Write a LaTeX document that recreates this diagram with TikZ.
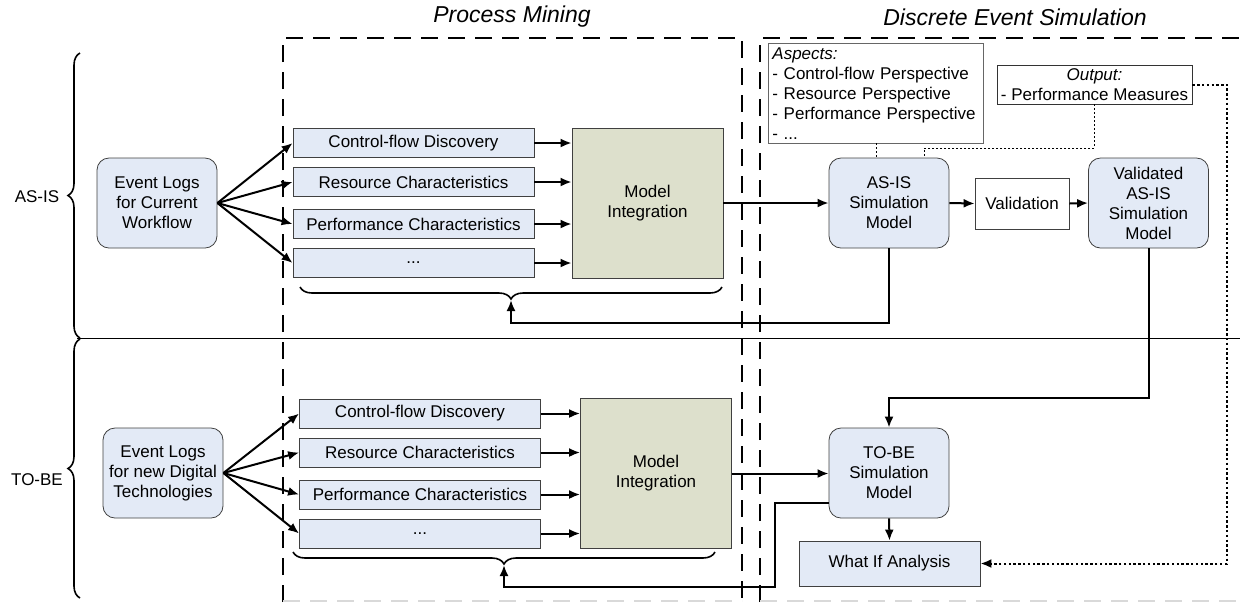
\documentclass[tikz,border=0pt]{standalone}
\usepackage{fontspec}
\setmainfont{Liberation Sans}
\usepackage{tikz}
\usetikzlibrary{positioning,calc}
\usetikzlibrary{arrows.meta,decorations.pathreplacing}
\definecolor{boxblue}{RGB}{227,234,246}
\definecolor{olivegray}{RGB}{221,224,204}
\tikzset{
	logbox/.style={draw=black!75,fill=boxblue,rounded corners=6pt,minimum width=60pt,minimum height=45pt,align=center,inner sep=1pt},
	listbox/.style={draw=black!75,fill=boxblue,minimum width=120.5pt,minimum height=14.5pt,inner sep=0pt},
	integbox/.style={draw=black!75,fill=olivegray,minimum width=75.5pt,minimum height=75pt,align=center},
	conn/.style={line width=1pt,-{Latex[length=5.5pt,width=4.5pt]}},
	note/.style={line width=0.5pt,dash pattern=on 1pt off 1pt},
	zone/.style={line width=1pt,dash pattern=on 8.5pt off 5pt},
	bracket/.style={line width=0.8pt,decorate,decoration={brace,amplitude=6pt}}
}

\begin{document}
\begin{tikzpicture}[x=0.5pt,y=-0.5pt,font=\fontsize{8.5}{10}\selectfont]
\useasboundingbox (0,0) rectangle (1240,602);

%Zones
\draw[zone] (283,602) -- (283,38) -- (742,38) -- (742,602);
\draw[zone] (760,602) -- (760,38) -- (1248,38);
\draw[gray!30,line width=0.8pt,dash pattern=on 8.5pt off 5pt] (283,601) -- (742,601);
\draw[gray!30,line width=0.8pt,dash pattern=on 8.5pt off 5pt] (760,601) -- (1240,601);
\node[font=\fontsize{11.5}{13}\selectfont\itshape] (pm) at (512,17) {Process Mining};
\node[font=\fontsize{11.5}{13}\selectfont\itshape] (des) at (1015,17) {Discrete Event Simulation};

%Separation AS-IS / TO-BE
\draw[line width=0.5pt] (77,338) -- (1240,338);
\draw[bracket] (80,338) -- (80,53);
\draw[bracket] (80,598) -- (80,339);
\node (asis) at (37,197) {AS-IS};
\node (tobe) at (37,480) {TO-BE};

%AS-IS
\node[logbox] (logsA) at (157,203) {Event Logs\\for Current\\Workflow};
\node[listbox] (cfA) at (413.5,143) {Control-flow Discovery};
\node[listbox] (resA) at (413.5,182) {Resource Characteristics};
\node[listbox] (perfA) at (413.5,224) {Performance Characteristics};
\node[listbox] (dotsA) at (413.5,263) {...};
\node[integbox] (integA) at (647.5,203) {Model\\Integration};

\foreach \b in {cfA,resA,perfA,dotsA} {
	\draw[conn] (logsA.east) -- (\b.west);
	\draw[conn] (\b.east) -- (\b.east -| integA.west);
}

\node[logbox] (simA) at (889,203) {AS-IS\\Simulation\\Model};
\node[draw=black!75,fill=white,minimum width=47pt,minimum height=25.5pt] (valid) at (1022,203.5) {Validation};
\node[logbox] (validA) at (1148.5,203) {Validated\\AS-IS\\Simulation\\Model};
\draw[conn] (integA.east) -- (simA.west);
\draw[conn] (simA.east) -- (valid.west);
\draw[conn] (valid.east) -- (validA.west);

\node[draw=black!60,fill=white,anchor=north west,text width=103.5pt,minimum height=50pt,inner xsep=2pt,inner ysep=0.5pt,align=left] (aspects) at (768,43)
	{\textit{Aspects:}\\- Control-flow Perspective\\- Resource Perspective\\- Performance Perspective\\- ...};
\node[draw=black!80,fill=white,minimum width=97.5pt,minimum height=19.5pt,inner sep=0.5pt,align=center] (output) at (1094.5,84.5)
	{\textit{Output:}\\- Performance Measures};

\coordinate (aspFoot) at (876,143);
\coordinate (outKnee) at (924,148);
\coordinate (outRight) at (1227,84.5);
\draw[note] (aspFoot) -- (aspFoot |- simA.north);
\draw[note] (output.south) |- (outKnee) -- (outKnee |- simA.north);

%retour AS-IS
\draw[bracket] (722,287) -- (300,287);
\coordinate (tipA) at (511,300);
\coordinate (loopA) at (511,323);
\draw[conn] (simA.south) |- (loopA) -- (tipA);

%TO-BE
\node[logbox] (logsB) at (163,473) {Event Logs\\for new Digital\\Technologies};
\node[listbox] (cfB) at (420,413.5) {Control-flow Discovery};
\node[listbox] (resB) at (420,452.5) {Resource Characteristics};
\node[listbox] (perfB) at (420,494.5) {Performance Characteristics};
\node[listbox] (dotsB) at (420,533.5) {...};
\node[integbox] (integB) at (656,473.5) {Model\\Integration};

\foreach \b in {cfB,resB,perfB,dotsB} {
	\draw[conn] (logsB.east) -- (\b.west);
	\draw[conn] (\b.east) -- (\b.east -| integB.west);
}

\node[logbox] (simB) at (889,473) {TO-BE\\Simulation\\Model};
\node[draw=black!75,fill=boxblue,minimum width=90.5pt,minimum height=22.5pt] (whatif) at (889.5,563.5) {What If Analysis};
\draw[conn] (integB.east) -- (integB.east -| simB.west);
\draw[conn] (simB.south) -- (whatif.north);

\coordinate (kneeV) at (1148.5,398);
\draw[conn] (validA.south) -- (kneeV) -| (simB.north);
\draw[line width=1pt,dash pattern=on 1.2pt off 1.2pt,-{Latex[length=5.5pt,width=4.5pt]}] (output.east) -- (outRight) |- (whatif.east);

%retour TO-BE
\draw[bracket] (715,552) -- (293,552);
\coordinate (tipB) at (504,565);
\coordinate (startB) at (829,503);
\coordinate (kneeB) at (775,587);
\draw[conn] (startB) -| (kneeB) -- (kneeB -| tipB) -- (tipB);

\end{tikzpicture}
\end{document}
